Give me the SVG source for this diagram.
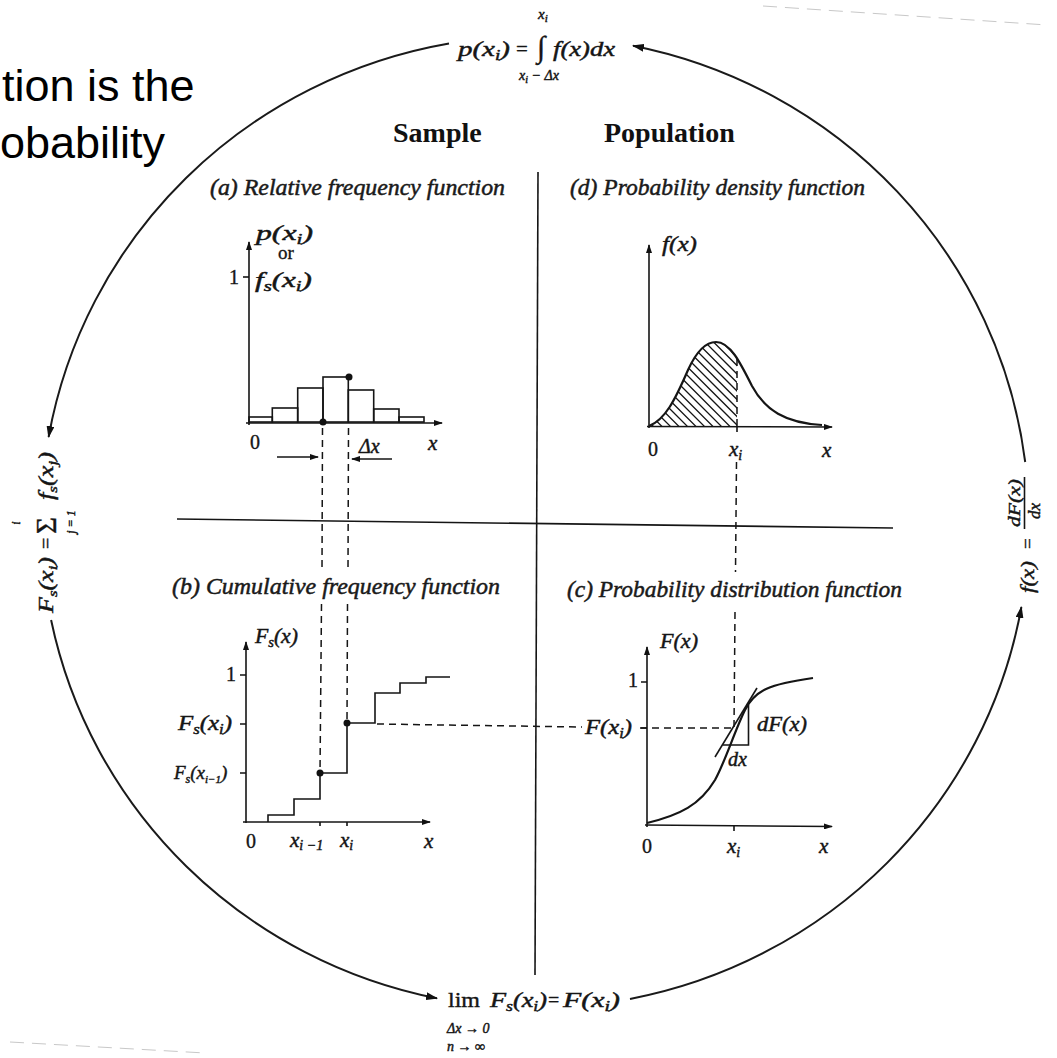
<svg xmlns="http://www.w3.org/2000/svg" width="1057" height="1058" viewBox="0 0 1057 1058">
<defs>
<style>
.ln{stroke:#151515;stroke-width:1.6;fill:none}
.arc{stroke:#1a1a1a;stroke-width:2;fill:none}
.ds{stroke:#151515;stroke-width:1.5;fill:none;stroke-dasharray:7 5}
.fa{stroke:#c8c8c8;stroke-width:1;fill:none;stroke-dasharray:14 8}
.it{font-family:"Liberation Serif","DejaVu Serif",serif;font-style:italic;fill:#151515;stroke:#151515;stroke-width:0.45}
.rm{font-family:"Liberation Serif","DejaVu Serif",serif;fill:#151515;stroke:#151515;stroke-width:0.35}
.ttl{font-family:"Liberation Serif","DejaVu Serif",serif;font-style:italic;font-size:23px;fill:#1a1a1a;stroke:#1a1a1a;stroke-width:0.5}
.hd{font-family:"Liberation Serif","DejaVu Serif",serif;font-weight:bold;font-size:28px;fill:#111}
.sl{font-family:"Liberation Sans",Arial,sans-serif;font-size:45px;fill:#000}
.dot{fill:#111}
.hatch{stroke:#151515;stroke-width:1.3}
</style>
<marker id="big" viewBox="0 0 12 8" refX="11" refY="4" markerWidth="12" markerHeight="8" markerUnits="userSpaceOnUse" orient="auto">
<path d="M0,0 L12,4 L0,8 z" fill="#111"/>
</marker>
<marker id="sm" viewBox="0 0 9 6" refX="8" refY="3" markerWidth="9" markerHeight="6" markerUnits="userSpaceOnUse" orient="auto">
<path d="M0,0 L9,3 L0,6 z" fill="#111"/>
</marker>
<clipPath id="dArea"><path d="M 649 426 C 665 420, 675 400, 688 370 C 698 348, 708 342, 716 342 C 730 342, 740 362, 752 386 C 765 410, 785 423, 822 425 L 822 426 Z"/></clipPath>
<clipPath id="dLeft"><rect x="640" y="300" width="97" height="130"/></clipPath>
</defs>
<rect width="1057" height="1058" fill="#fff"/>

<g id="slide-text">
<text class="sl" x="2" y="101">tion is the</text>
<text class="sl" x="0" y="158">obability</text>
</g>

<g id="scan-marks">
<path class="fa" d="M 763 6 L 1047 25"/>
<path class="fa" d="M 10 1042 L 205 1053"/>
</g>

<g id="headers">
<text class="hd" x="393" y="142">Sample</text>
<text class="hd" x="604" y="142">Population</text>
</g>

<g id="dividers">
<path class="ln" d="M 538 172 L 535 975"/>
<path class="ln" d="M 177 519 L 893 528"/>
</g>

<g id="formula-top">
<text class="it" x="458" y="56" font-size="21" textLength="52" lengthAdjust="spacingAndGlyphs">p(x<tspan font-size="14" dy="4">i</tspan><tspan dy="-4">)</tspan></text>
<text class="rm" x="516" y="56" font-size="21">=</text>
<text class="rm" x="537" y="57" font-size="30">∫</text>
<text class="it" x="538" y="19" font-size="15">x<tspan font-size="11" dy="3">i</tspan></text>
<text class="it" x="519" y="80" font-size="14">x<tspan font-size="10" dy="3">i</tspan><tspan dy="-3"> − Δx</tspan></text>
<text class="it" x="553" y="56" font-size="21" textLength="62" lengthAdjust="spacingAndGlyphs">f(x)dx</text>
</g>

<g id="formula-left" transform="translate(53,535) rotate(-90)">
<text class="it" x="-78" y="0" font-size="20" textLength="56" lengthAdjust="spacingAndGlyphs">F<tspan font-size="13" dy="4">s</tspan><tspan dy="-4">(x</tspan><tspan font-size="13" dy="4">i</tspan><tspan dy="-4">)</tspan></text>
<text class="rm" x="-14" y="0" font-size="20">=</text>
<text class="rm" x="1" y="3" font-size="29">Σ</text>
<text class="it" x="12" y="-33" font-size="12" text-anchor="middle">i</text>
<text class="it" x="13" y="22" font-size="12" text-anchor="middle">j = 1</text>
<text class="it" x="35" y="0" font-size="20" textLength="48" lengthAdjust="spacingAndGlyphs">f<tspan font-size="13" dy="4">s</tspan><tspan dy="-4">(x</tspan><tspan font-size="13" dy="4">j</tspan><tspan dy="-4">)</tspan></text>
</g>

<g id="formula-right" transform="translate(1034,535) rotate(-90)">
<text class="it" x="-58" y="0" font-size="19" textLength="32" lengthAdjust="spacingAndGlyphs">f(x)</text>
<text class="rm" x="-14" y="0" font-size="19">=</text>
<text class="it" x="8" y="-14" font-size="17" textLength="48" lengthAdjust="spacingAndGlyphs">dF(x)</text>
<path class="ln" d="M 6 -9.5 L 58 -9.5"/>
<text class="it" x="16" y="6" font-size="17">dx</text>
</g>

<g id="formula-bottom">
<text class="rm" x="448" y="1007" font-size="20" textLength="32" lengthAdjust="spacingAndGlyphs">lim</text>
<text class="it" x="490" y="1007" font-size="21" textLength="57" lengthAdjust="spacingAndGlyphs">F<tspan font-size="14" dy="4">s</tspan><tspan dy="-4">(x</tspan><tspan font-size="14" dy="4">i</tspan><tspan dy="-4">)</tspan></text>
<text class="rm" x="548" y="1007" font-size="20">=</text>
<text class="it" x="563" y="1007" font-size="21" textLength="57" lengthAdjust="spacingAndGlyphs">F(x<tspan font-size="14" dy="4">i</tspan><tspan dy="-4">)</tspan></text>
<text class="it" x="447" y="1033" font-size="14">Δx → 0</text>
<text class="it" x="447" y="1051" font-size="14">n → ∞</text>
</g>

<g id="panel-a">
<text class="ttl" x="210" y="195" textLength="295" lengthAdjust="spacingAndGlyphs">(a) Relative frequency function</text>
<path class="ln" d="M 249 425 L 249 242" marker-end="url(#sm)"/>
<path class="ln" d="M 246 423 L 442 423" marker-end="url(#sm)"/>
<path class="ln" d="M 243 277 L 249 277"/>
<g class="ln">
<rect x="249" y="417" width="23.3" height="5"/>
<rect x="272.3" y="408" width="25.4" height="14"/>
<rect x="297.7" y="388" width="25.3" height="34"/>
<rect x="323" y="377" width="25.3" height="45"/>
<rect x="348.3" y="390" width="25.4" height="32"/>
<rect x="373.7" y="409" width="25.3" height="13"/>
<rect x="399" y="417" width="25" height="5"/>
</g>
<circle class="dot" cx="323" cy="422" r="3.5"/>
<circle class="dot" cx="349" cy="377" r="3.5"/>
<text class="it" x="256" y="240" font-size="21" textLength="57" lengthAdjust="spacingAndGlyphs">p(x<tspan font-size="14" dy="4">i</tspan><tspan dy="-4">)</tspan></text>
<text class="rm" x="278" y="259" font-size="19">or</text>
<text class="it" x="255" y="287" font-size="21" textLength="57" lengthAdjust="spacingAndGlyphs">f<tspan font-size="14" dy="4">s</tspan><tspan dy="-4">(x</tspan><tspan font-size="14" dy="4">i</tspan><tspan dy="-4">)</tspan></text>
<text class="rm" x="229" y="284" font-size="20">1</text>
<text class="rm" x="250" y="449" font-size="20">0</text>
<text class="it" x="428" y="450" font-size="21">x</text>
<text class="it" x="359" y="453" font-size="20">Δx</text>
<path class="ln" d="M 277 457 L 318 457" marker-end="url(#sm)"/>
<path class="ln" d="M 392 459 L 352 459" marker-end="url(#sm)"/>
</g>

<g id="panel-d">
<text class="ttl" x="570" y="195" textLength="295" lengthAdjust="spacingAndGlyphs">(d) Probability density function</text>
<path class="ln" d="M 649 428 L 649 245" marker-end="url(#sm)"/>
<path class="ln" d="M 647 426.5 L 832 427" marker-end="url(#sm)"/>
<path class="ln" d="M 737 426 L 737 432"/>
<g clip-path="url(#dLeft)"><g clip-path="url(#dArea)" class="hatch">
<path d="M 540 330 L 640 430 M 548.5 330 L 648.5 430 M 557 330 L 657 430 M 565.5 330 L 665.5 430 M 574 330 L 674 430 M 582.5 330 L 682.5 430 M 591 330 L 691 430 M 599.5 330 L 699.5 430 M 608 330 L 708 430 M 616.5 330 L 716.5 430 M 625 330 L 725 430 M 633.5 330 L 733.5 430 M 642 330 L 742 430 M 650.5 330 L 750.5 430 M 659 330 L 759 430 M 667.5 330 L 767.5 430 M 676 330 L 776 430 M 684.5 330 L 784.5 430 M 693 330 L 793 430 M 701.5 330 L 801.5 430 M 710 330 L 810 430 M 718.5 330 L 818.5 430 M 727 330 L 827 430 M 735.5 330 L 835.5 430"/>
</g></g>
<path d="M 649 426 C 665 420, 675 400, 688 370 C 698 348, 708 342, 716 342 C 730 342, 740 362, 752 386 C 765 410, 785 423, 822 425" stroke="#151515" stroke-width="2.2" fill="none"/>
<text class="it" x="662" y="251" font-size="21" textLength="35" lengthAdjust="spacingAndGlyphs">f(x)</text>
<text class="rm" x="648" y="456" font-size="20">0</text>
<text class="it" x="729" y="456" font-size="21">x<tspan font-size="14" dy="4">i</tspan></text>
<text class="it" x="822" y="457" font-size="21">x</text>
</g>

<g id="panel-b">
<text class="ttl" x="172" y="594" textLength="328" lengthAdjust="spacingAndGlyphs">(b) Cumulative frequency function</text>
<path class="ln" d="M 246 823 L 246 642" marker-end="url(#sm)"/>
<path class="ln" d="M 243 822 L 430 822" marker-end="url(#sm)"/>
<path class="ln" d="M 240 675 L 246 675 M 240 724 L 246 724 M 240 773 L 246 773 M 320 822 L 320 826 M 347 822 L 347 826"/>
<path class="ln" d="M 268 822 L 268 815 L 294 815 L 294 799 L 320 799 L 320 773 L 347 773 L 347 723 L 375 723 L 375 693 L 400 693 L 400 683 L 426 683 L 426 677 L 450 677"/>
<circle class="dot" cx="320" cy="773" r="3.5"/>
<circle class="dot" cx="347" cy="723" r="3.5"/>
<text class="it" x="255" y="643" font-size="21" textLength="43" lengthAdjust="spacingAndGlyphs">F<tspan font-size="14" dy="4">s</tspan><tspan dy="-4">(x)</tspan></text>
<text class="rm" x="226" y="681" font-size="20">1</text>
<text class="it" x="178" y="730" font-size="21" textLength="54" lengthAdjust="spacingAndGlyphs">F<tspan font-size="14" dy="4">s</tspan><tspan dy="-4">(x</tspan><tspan font-size="14" dy="4">i</tspan><tspan dy="-4">)</tspan></text>
<text class="it" x="174" y="779" font-size="19">F<tspan font-size="12" dy="4">s</tspan><tspan dy="-4">(x</tspan><tspan font-size="11" dy="4">i−1</tspan><tspan dy="-4">)</tspan></text>
<text class="rm" x="246" y="848" font-size="20">0</text>
<text class="it" x="290" y="847" font-size="21">x<tspan font-size="14" dy="3">i −1</tspan></text>
<text class="it" x="340" y="847" font-size="21">x<tspan font-size="14" dy="3">i</tspan></text>
<text class="it" x="424" y="848" font-size="21">x</text>
</g>

<g id="panel-c">
<text class="ttl" x="567" y="597" textLength="335" lengthAdjust="spacingAndGlyphs">(c) Probability distribution function</text>
<path class="ln" d="M 647 827 L 647 647" marker-end="url(#sm)"/>
<path class="ln" d="M 645 825 L 832 826.5" marker-end="url(#sm)"/>
<path class="ln" d="M 641 682 L 647 682 M 641 728 L 647 728 M 734 826 L 734 831"/>
<path d="M 647 823 C 680 815, 700 805, 715 780 C 725 762, 735 730, 745 710 C 755 690, 770 684, 813 678" stroke="#151515" stroke-width="2.2" fill="none"/>
<path class="ln" d="M 715 757 L 757 688"/>
<path class="ln" d="M 723 745 L 748.5 745 L 748.5 705"/>
<text class="it" x="660" y="648" font-size="21" textLength="38" lengthAdjust="spacingAndGlyphs">F(x)</text>
<text class="rm" x="628" y="687" font-size="20">1</text>
<text class="it" x="585" y="734" font-size="21" textLength="47" lengthAdjust="spacingAndGlyphs">F(x<tspan font-size="14" dy="4">i</tspan><tspan dy="-4">)</tspan></text>
<text class="it" x="757" y="731" font-size="21" textLength="50" lengthAdjust="spacingAndGlyphs">dF(x)</text>
<text class="it" x="728" y="766" font-size="20">dx</text>
<text class="rm" x="642" y="853" font-size="20">0</text>
<text class="it" x="727" y="853" font-size="21">x<tspan font-size="14" dy="4">i</tspan></text>
<text class="it" x="819" y="853" font-size="21">x</text>
</g>

<g id="connectors">
<path class="arc" d="M 449 43.4 A 494 486 0 0 0 48.6 437" marker-end="url(#big)"/>
<path class="arc" d="M 51.1 620 A 494 486 0 0 0 437 998.3" marker-end="url(#big)"/>
<path class="arc" d="M 630 998.9 A 494 486 0 0 0 1021.4 607" marker-end="url(#big)"/>
<path class="arc" d="M 1025.2 462 A 494 486 0 0 0 633 45.7" marker-end="url(#big)"/>
<path class="ds" d="M 322.5 428 L 322 570 M 321.5 604 L 320 773"/>
<path class="ds" d="M 348.5 428 L 348 570 M 347.5 604 L 347 723"/>
<path class="ds" d="M 737 359 L 737 426"/>
<path class="ds" d="M 736.5 462 L 735.5 572 M 735 612 L 734 728"/>
<path class="ds" d="M 377 724 L 582 727"/>
<path class="ds" d="M 640 728 L 733 728"/>
</g>
</svg>
